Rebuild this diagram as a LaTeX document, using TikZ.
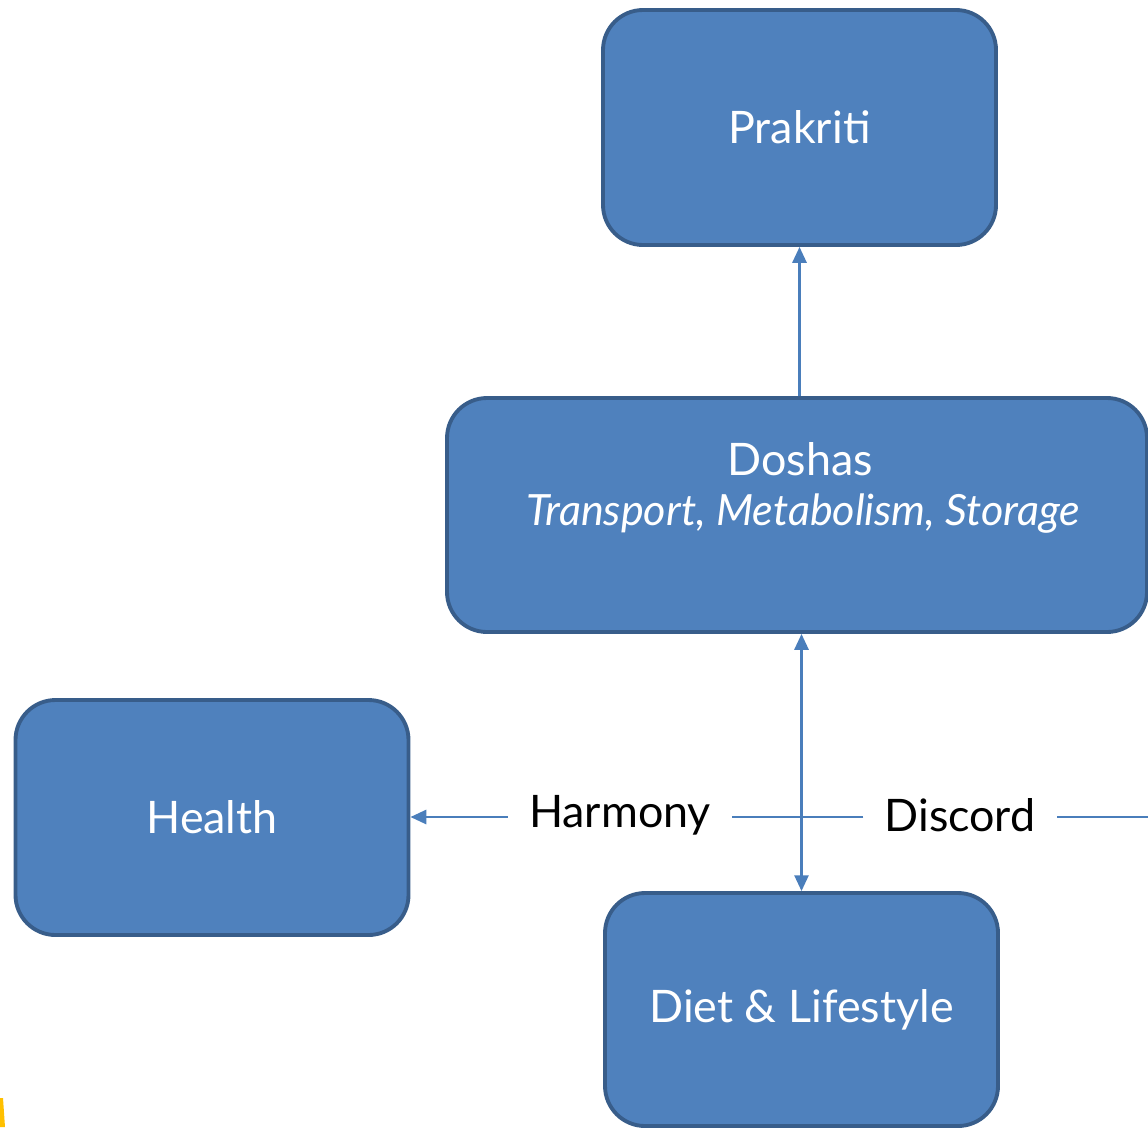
\documentclass[tikz,border=0pt]{standalone}
\usepackage{fontspec}
\setmainfont{Lato}
\usetikzlibrary{calc,positioning,arrows.meta}
\definecolor{boxfill}{HTML}{4F81BD}
\definecolor{boxline}{HTML}{385D8A}
\definecolor{linkcol}{HTML}{4A7EBB}
\definecolor{cutyellow}{HTML}{FFC000}
\newcommand{\bigtxt}{\fontsize{25.5}{31}\selectfont}

\begin{document}
\begin{tikzpicture}[x=1cm,y=1cm,
  every node/.style={inner sep=0pt,font=\bigtxt},
  blockbox/.style={draw=boxline,fill=boxfill,line width=2.2pt,rounded corners=0.8cm,
    minimum width=7.86cm,minimum height=4.7cm,text=white},
  link/.style={draw=linkcol,line width=1.4pt,-{Triangle[length=9pt,width=8pt]}},
  plainlink/.style={draw=linkcol,line width=1.4pt},
  word/.style={inner xsep=0.42cm,text=black}]
  \useasboundingbox (0,0) rectangle (22.96,-22.54);
  \fill[cutyellow] (0,-21.96) -- (0.06,-21.96) -- (0.1,-22.54) -- (0,-22.54) -- cycle;
  \node[blockbox] (prakriti) at (15.99,-2.55) {Prakriti};
  \node[blockbox,minimum width=14cm,minimum height=4.68cm] (doshas) at (15.94,-10.30) {};
  \node[text=white] (doshastop) at (16.0,-9.19) {Doshas};
  \node[text=white,font=\fontsize{24.5}{30}\selectfont\itshape] (doshasbot) at (16.06,-10.28) {Transport, Metabolism, Storage};
  \node[blockbox] (health) at (4.24,-16.35) {Health};
  \node[blockbox,minimum height=4.66cm] (diet) at (16.03,-20.19) {\raisebox{-0.1cm}{Diet \& Lifestyle}};
  \node[word] (harmony) at (12.4,-16.3) {Harmony};
  \node[word] (discord) at (19.2,-16.3) {Discord};
  \coordinate (rimright) at (22.96,-16.34);
  \draw[link] (prakriti.south |- doshas.north) -- (prakriti.south);
  \draw[link,{Triangle[length=9pt,width=8pt]}-{Triangle[length=9pt,width=8pt]}] (diet.north |- doshas.south) -- (diet.north);
  \draw[link] (harmony.west |- rimright) -- (health.east |- rimright);
  \draw[plainlink] (discord.west |- rimright) -- (harmony.east |- rimright);
  \draw[plainlink] (rimright) -- (discord.east |- rimright);
\end{tikzpicture}
\end{document}
